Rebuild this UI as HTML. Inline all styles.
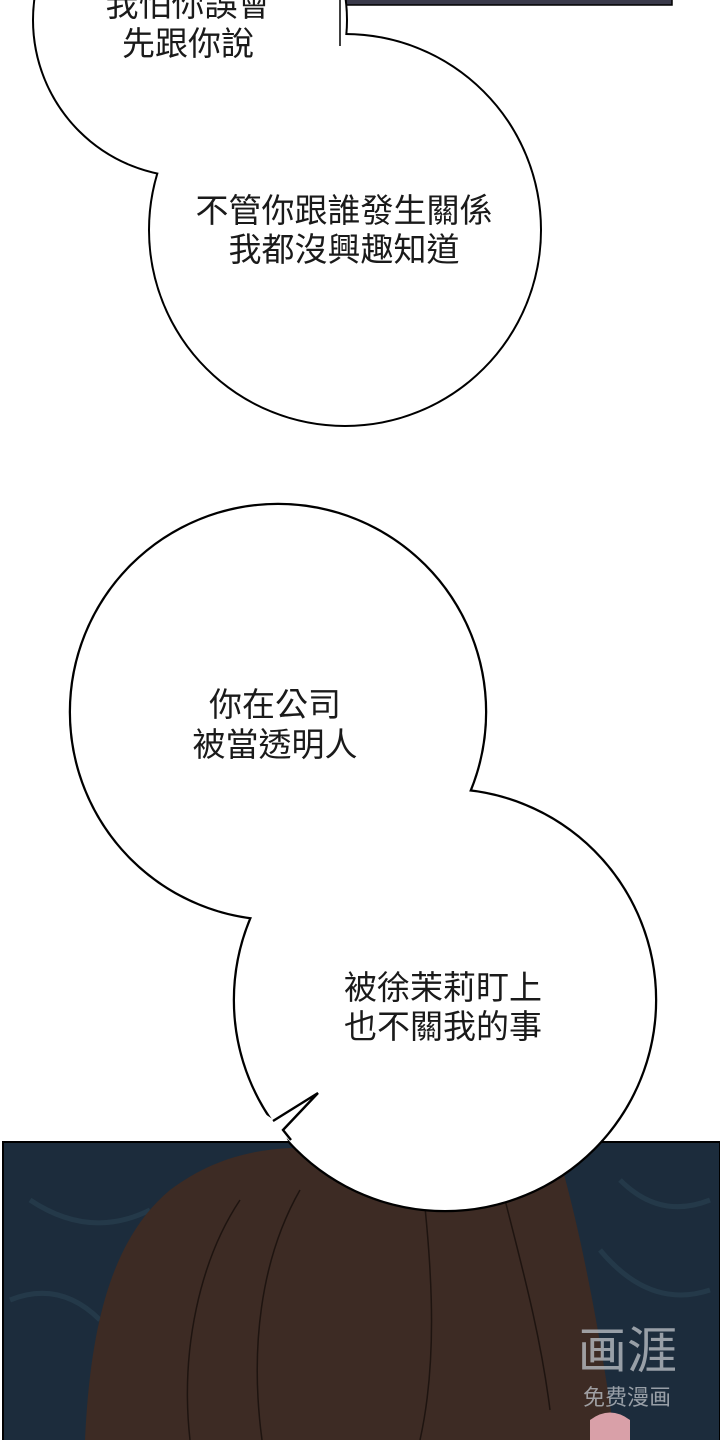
<!DOCTYPE html>
<html><head><meta charset="utf-8"><style>
html,body{margin:0;padding:0;background:#fff}
svg{display:block}
text{font-family:"Liberation Sans","Noto Sans CJK TC",sans-serif;fill:#1a1a1a}
</style></head><body>
<svg width="720" height="1440" viewBox="0 0 720 1440" xmlns="http://www.w3.org/2000/svg">
<rect width="720" height="1440" fill="#fff"/>
<!-- top panel remnant -->
<rect x="338" y="-2" width="334" height="7" fill="#3a3a4a" stroke="#000" stroke-width="1.5"/>
<line x1="35" y1="0" x2="35" y2="8" stroke="#000" stroke-width="2"/>
<!-- bubble 1 -->
<g stroke="#000" stroke-width="4" fill="#fff">
<circle cx="190" cy="20" r="156"/>
<circle cx="345" cy="230" r="195"/>
</g>
<g fill="#fff">
<circle cx="190" cy="20" r="156"/>
<circle cx="345" cy="230" r="195"/>
<rect x="60" y="0" width="278" height="60"/>
</g>
<line x1="340" y1="0" x2="340" y2="46" stroke="#000" stroke-width="1.5"/>
<text x="188" y="16" font-size="33" text-anchor="middle">我怕你誤會</text>
<text x="188" y="55" font-size="33" text-anchor="middle">先跟你說</text>
<text x="344" y="222" font-size="33" text-anchor="middle">不管你跟誰發生關係</text>
<text x="344" y="261" font-size="33" text-anchor="middle">我都沒興趣知道</text>
<!-- bottom panel -->
<rect x="3" y="1142" width="717" height="300" fill="#1c2c3c" stroke="#000" stroke-width="2"/>
<path d="M30 1200 q60 40 120 10 M10 1300 q50 -20 90 20 M620 1180 q40 40 90 20 M600 1250 q50 60 110 40" stroke="#2a4252" stroke-width="5" fill="none" opacity="0.6"/>
<path d="M85 1440 C90 1330 110 1240 170 1190 C210 1160 250 1150 290 1148 L560 1160 C580 1230 600 1330 615 1440 Z" fill="#3d2b24"/>
<path d="M240 1200 C200 1260 180 1350 190 1440 M300 1190 C260 1260 250 1350 262 1440 M420 1160 C430 1250 440 1350 420 1440 M500 1180 C520 1260 540 1330 550 1410" stroke="#1e1410" stroke-width="1.5" fill="none"/>
<path d="M590 1420 q20 -15 40 0 l0 20 l-40 0 z" fill="#d9a0a8"/>
<!-- bubble 2 -->
<g stroke="#000" stroke-width="4.5" fill="#fff">
<circle cx="278" cy="712" r="207"/>
<circle cx="445" cy="1000" r="210"/>
</g>
<g fill="#fff">
<circle cx="278" cy="712" r="207"/>
<circle cx="445" cy="1000" r="210"/>
</g>
<!-- erase arc inside tail notch -->
<polygon points="262,1112 274,1120 283,1130 288,1141 270,1141 258,1125" fill="#fff"/>
<polyline points="273,1121 318,1093 283,1130 291,1140" fill="none" stroke="#000" stroke-width="2.4" stroke-linejoin="miter"/>
<text x="275" y="716" font-size="33" text-anchor="middle">你在公司</text>
<text x="275" y="756" font-size="33" text-anchor="middle">被當透明人</text>
<text x="443" y="999" font-size="33" text-anchor="middle">被徐茉莉盯上</text>
<text x="443" y="1038" font-size="33" text-anchor="middle">也不關我的事</text>
<!-- watermark -->
<text x="627" y="1368" font-size="50" text-anchor="middle" style="fill:#b8bcc2;opacity:0.8">画涯</text>
<text x="627" y="1405" font-size="22" text-anchor="middle" style="fill:#b8bcc2;opacity:0.8">免费漫画</text>
</svg>
</body></html>
